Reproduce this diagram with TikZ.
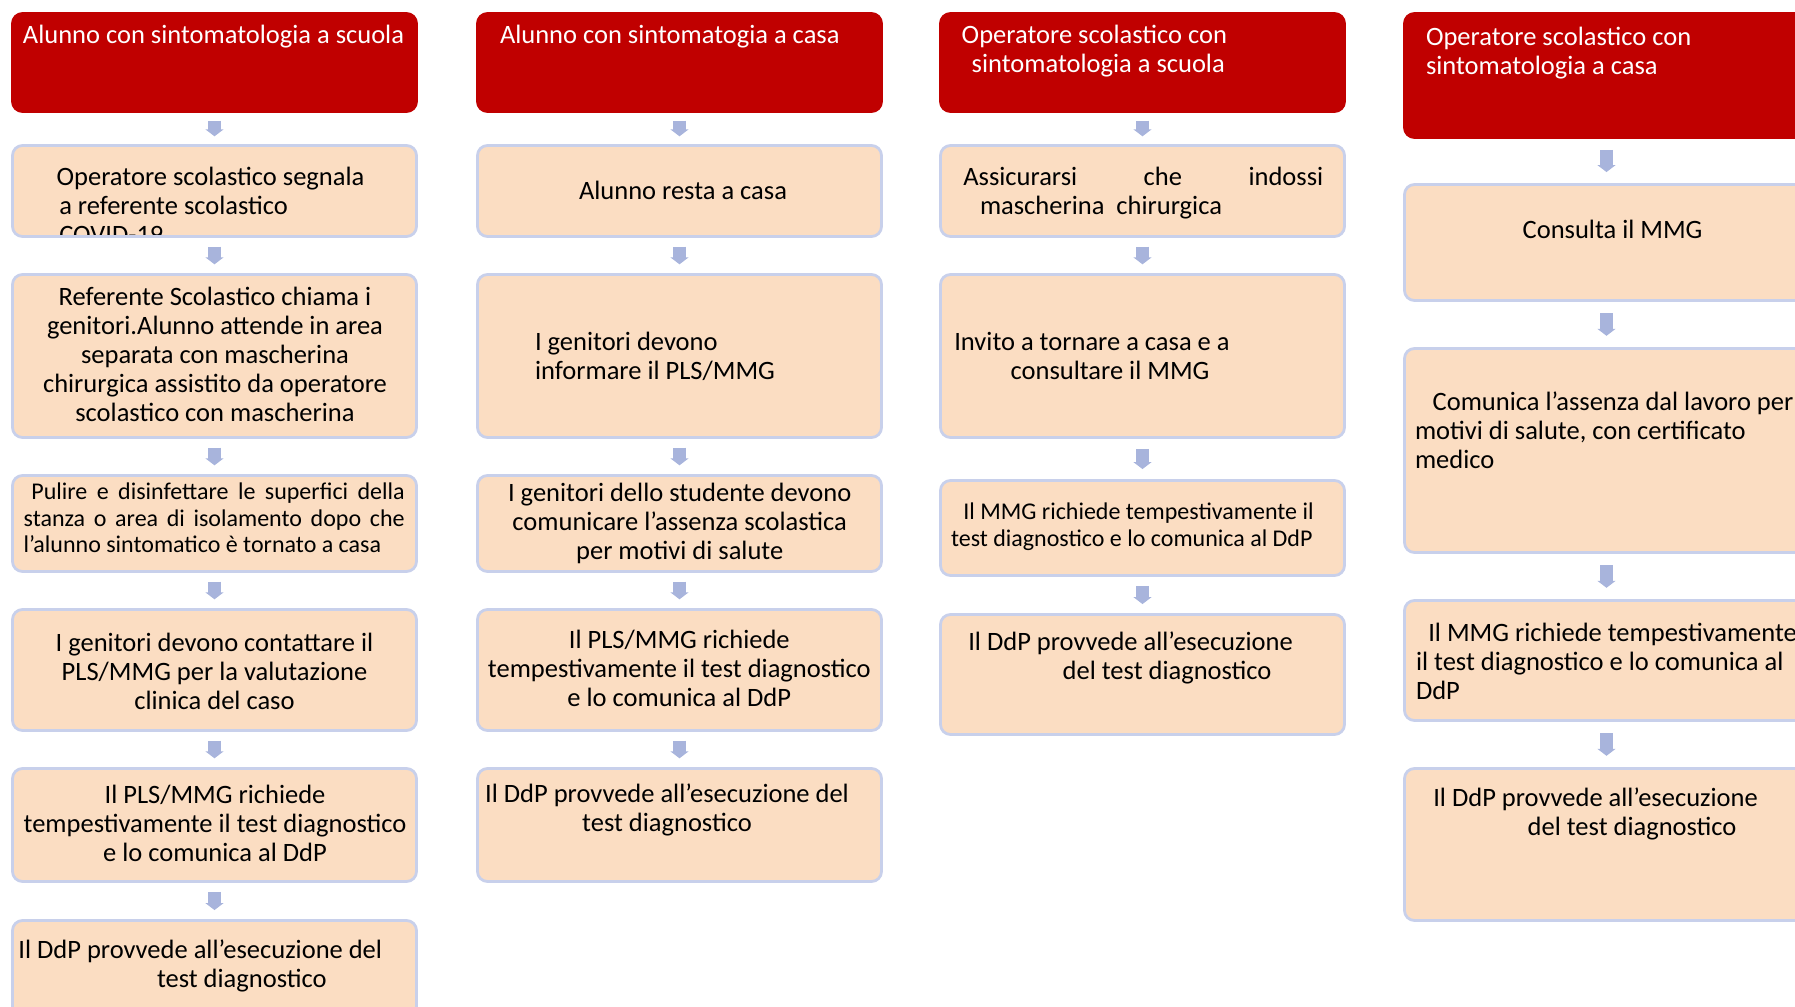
\documentclass[tikz,border=0pt]{standalone}
\usepackage{fontspec}
\setmainfont{Carlito}
\usetikzlibrary{positioning,calc,arrows.meta}
\definecolor{hdred}{HTML}{C00000}
\definecolor{peach}{HTML}{FBDDC2}
\definecolor{lavline}{HTML}{C8D0EB}
\definecolor{arrowblue}{HTML}{A8B4DC}
\tikzset{
  stepbox/.style={draw=lavline,fill=peach,line width=1.4pt,rounded corners=5pt,minimum width=202pt,inner sep=0pt},
  headbox/.style={stepbox,draw=hdred,fill=hdred},
  flow/.style={draw=arrowblue,line width=6.5pt,-{Triangle[width=9pt,length=3.5pt]}},
  txt/.style={inner sep=0pt,outer sep=0pt,anchor=north west,align=left,font=\fontsize{13.25}{14.5}\selectfont},
  txtc/.style={txt,anchor=north,align=center},
  smalltxt/.style={txt,font=\fontsize{12}{13.2}\selectfont},
  headtxt/.style={txt,text=white},
}
\begin{document}
\begin{tikzpicture}[x=0.5pt,y=-0.5pt]
% page is 1795 x 1007 px, y runs downwards; four columns of 407 px, pitch 464 px
\useasboundingbox (0,0) rectangle (1795,1007);
\clip (0,0) rectangle (1795,1007);
\def\card#1#2#3#4#5{\node[#2,minimum height={(#5-#4-3)*0.5pt}] (#1) at ({#3+203.5},{(#4+#5)/2}) {};}
\def\flowto#1#2{\draw[flow] ($(#1.south)!0.25!(#2.north)$) -- ($(#1.south)!0.75!(#2.north)$);}
% alunno a scuola
\card{a1}{headbox}{11}{12}{113}
\card{a2}{stepbox}{11}{144}{238}
\card{a3}{stepbox}{11}{273}{439}
\card{a4}{stepbox}{11}{474}{573}
\card{a5}{stepbox}{11}{608}{732}
\card{a6}{stepbox}{11}{767}{883}
\card{a7}{stepbox}{11}{919}{1040}
% alunno a casa
\card{b1}{headbox}{476}{12}{113}
\card{b2}{stepbox}{476}{144}{238}
\card{b3}{stepbox}{476}{273}{439}
\card{b4}{stepbox}{476}{474}{573}
\card{b5}{stepbox}{476}{608}{732}
\card{b6}{stepbox}{476}{767}{883}
% operatore a scuola
\card{c1}{headbox}{939}{12}{113}
\card{c2}{stepbox}{939}{144}{238}
\card{c3}{stepbox}{939}{273}{439}
\card{c4}{stepbox}{939}{479}{577}
\card{c5}{stepbox}{939}{613}{736}
% operatore a casa (cut by the right edge)
\card{d1}{headbox}{1403}{12}{139}
\card{d2}{stepbox}{1403}{183}{302}
\card{d3}{stepbox}{1403}{347}{554}
\card{d4}{stepbox}{1403}{599}{722}
\card{d5}{stepbox}{1403}{767}{922}
% block arrows between the steps
\foreach \u/\v in {a1/a2,a2/a3,a3/a4,a4/a5,a5/a6,a6/a7,b1/b2,b2/b3,b3/b4,b4/b5,b5/b6,
  c1/c2,c2/c3,c3/c4,c4/c5,d1/d2,d2/d3,d3/d4,d4/d5} {\flowto{\u}{\v}}
% texts, column 1
\node[headtxt] (ha) at (23,23) {\strut Alunno con sintomatologia a scuola};
\begin{scope}
\clip (a2.north west) rectangle ($(a2.south east)+(0,-3)$);
\node[txt] (ta2) at (56.6,164.7) {\strut Operatore scolastico segnala\\\hspace*{1.35pt}a referente scolastico\\\hspace*{1.35pt}COVID-19};
\end{scope}
\node[txtc] (ta3) at (215,284.7) {\strut Referente Scolastico chiama i\\genitori.Alunno attende in area\\separata con mascherina\\chirurgica assistito da operatore\\scolastico con mascherina};
\node[smalltxt,text width=190.5pt,align=justify] (ta4) at (23.7,481.5) {\strut\hspace*{3.85pt}Pulire e disinfettare le superfici della\linebreak stanza o area di isolamento dopo che\linebreak l’alunno sintomatico è tornato a casa};
\node[txtc] (ta5) at (214.5,631.4) {\strut I genitori devono contattare il\\PLS/MMG per la valutazione\\clinica del caso};
\node[txtc] (ta6) at (215,783) {\strut Il PLS/MMG richiede\\tempestivamente il test diagnostico\\e lo comunica al DdP};
\node[txt] (ta7) at (18.4,938) {\strut Il DdP provvede all’esecuzione del\\\hspace*{69.3pt}test diagnostico};
% texts, column 2
\node[headtxt] (hb) at (500,23) {\strut Alunno con sintomatogia a casa};
\node[txtc] (tb2) at (683,179) {\strut Alunno resta a casa};
\node[txt] (tb3) at (535,329.7) {\strut I genitori devono\\informare il PLS/MMG};
\node[txtc] (tb4) at (679.7,481.4) {\strut I genitori dello studente devono\\comunicare l’assenza scolastica\\per motivi di salute};
\node[txtc] (tb5) at (679.3,628) {\strut Il PLS/MMG richiede\\tempestivamente il test diagnostico\\e lo comunica al DdP};
\node[txtc] (tb6) at (667,782.4) {\strut Il DdP provvede all’esecuzione del\\test diagnostico};
% texts, column 3
\node[headtxt] (hc) at (961.7,23) {\strut Operatore scolastico con\\\hspace*{5pt}sintomatologia a scuola};
\node[txt] (tc2) at (963.3,164.7) {\strut\makebox[180pt][s]{Assicurarsi che indossi}\\\hspace*{8.35pt}mascherina\ \ chirurgica};
\node[txt] (tc3) at (954.3,329.7) {\strut Invito a tornare a casa e a\\\hspace*{28.2pt}consultare il MMG};
\node[smalltxt] (tc4) at (951,501.5) {\strut\hspace*{6.15pt}Il MMG richiede tempestivamente il\\test diagnostico e lo comunica al DdP};
\node[txt] (tc5) at (968.3,630.4) {\strut Il DdP provvede all’esecuzione\\\hspace*{47.2pt}del test diagnostico};
% texts, column 4
\node[headtxt] (hd) at (1426,24.7) {\strut Operatore scolastico con\\sintomatologia a casa};
\node[txt] (td2) at (1522.7,218) {\strut Consulta il MMG};
\node[txt] (td3) at (1415,389.7) {\strut\hspace*{8.85pt}Comunica l’assenza dal lavoro per\\motivi di salute, con certificato\\medico};
\node[txt] (td4) at (1416,621.4) {\strut\hspace*{6.15pt}Il MMG richiede tempestivamente\\il test diagnostico e lo comunica al\\DdP};
\node[txt] (td5) at (1433.3,786.4) {\strut Il DdP provvede all’esecuzione\\\hspace*{47.2pt}del test diagnostico};
\end{tikzpicture}
\end{document}
